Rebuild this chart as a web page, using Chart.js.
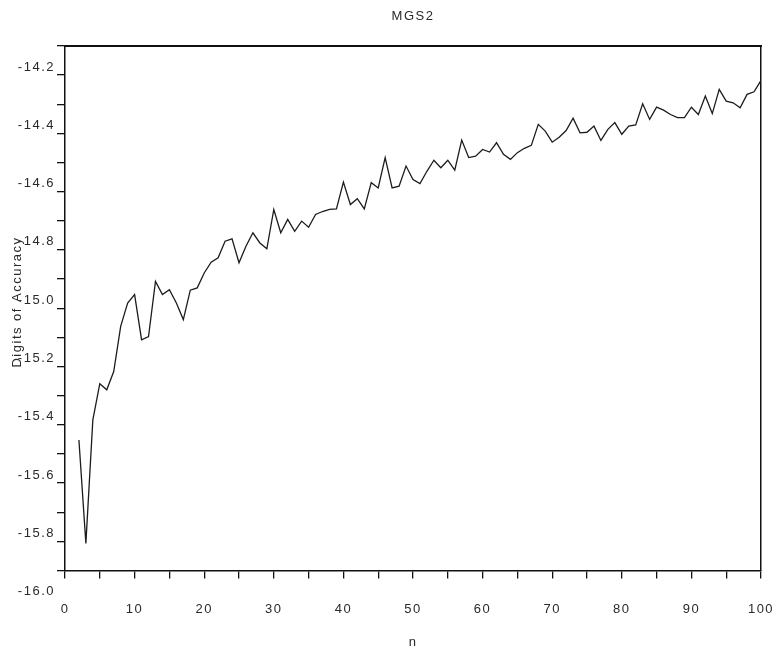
<!DOCTYPE html>
<html>
<head>
<meta charset="utf-8">
<title>MGS2</title>
<script src="https://cdn.jsdelivr.net/npm/chart.js@4.4.1/dist/chart.umd.min.js"></script>
<style>
  html, body { margin: 0; padding: 0; background: #ffffff; }
  canvas { display: block; }
</style>
</head>
<body>
<canvas id="chart" width="776" height="650"></canvas>
<script>
// Problem size n
const nValues = [
  2, 3, 4, 5, 6, 7, 8, 9, 10,
  11, 12, 13, 14, 15, 16, 17, 18, 19, 20,
  21, 22, 23, 24, 25, 26, 27, 28, 29, 30,
  31, 32, 33, 34, 35, 36, 37, 38, 39, 40,
  41, 42, 43, 44, 45, 46, 47, 48, 49, 50,
  51, 52, 53, 54, 55, 56, 57, 58, 59, 60,
  61, 62, 63, 64, 65, 66, 67, 68, 69, 70,
  71, 72, 73, 74, 75, 76, 77, 78, 79, 80,
  81, 82, 83, 84, 85, 86, 87, 88, 89, 90,
  91, 92, 93, 94, 95, 96, 97, 98, 99, 100
];

// log10 of the error for modified Gram-Schmidt (second pass)
const digitsOfAccuracy = [
  -15.552, -15.907, -15.483, -15.359, -15.380, -15.317, -15.162, -15.082, -15.053,
  -15.208, -15.197, -15.008, -15.053, -15.036, -15.082, -15.139, -15.038, -15.030, -14.979,
  -14.942, -14.927, -14.870, -14.862, -14.944, -14.887, -14.841, -14.876, -14.896, -14.761,
  -14.841, -14.795, -14.836, -14.801, -14.822, -14.778, -14.768, -14.761, -14.759, -14.667,
  -14.744, -14.724, -14.759, -14.669, -14.687, -14.583, -14.687, -14.681, -14.612, -14.658,
  -14.672, -14.630, -14.592, -14.618, -14.592, -14.626, -14.523, -14.583, -14.578, -14.555,
  -14.564, -14.532, -14.572, -14.589, -14.566, -14.551, -14.541, -14.469, -14.492, -14.530,
  -14.513, -14.490, -14.448, -14.498, -14.496, -14.475, -14.524, -14.486, -14.463, -14.503,
  -14.475, -14.471, -14.398, -14.452, -14.410, -14.420, -14.435, -14.446, -14.446, -14.410,
  -14.435, -14.372, -14.432, -14.349, -14.389, -14.395, -14.412, -14.366, -14.357, -14.318
];

// Labelled ticks (minor tick marks sit halfway between them)
const xTickLabels = [0, 10, 20, 30, 40, 50, 60, 70, 80, 90, 100];
const yTickLabels = [-16.0, -15.8, -15.6, -15.4, -15.2, -15.0, -14.8, -14.6, -14.4, -14.2];

const FONT_FAMILY = '"Liberation Sans", Arial, Helvetica, sans-serif';
const FONT_SIZE = 13;
const SPACING = '1.5px';
const TEXT_COLOR = '#2a2a2a';
const AXIS_COLOR = '#111111';

// Wide letter spacing for all canvas text
const letterSpacingPlugin = {
  id: 'letterSpacing',
  beforeUpdate(chart) { chart.ctx.letterSpacing = SPACING; },
  beforeDraw(chart) { chart.ctx.letterSpacing = SPACING; }
};

// Vertical axis title, drawn over the left margin
const yTitlePlugin = {
  id: 'yTitle',
  afterDraw(chart) {
    const ctx = chart.ctx;
    ctx.save();
    ctx.font = FONT_SIZE + 'px ' + FONT_FAMILY;
    ctx.letterSpacing = SPACING;
    ctx.fillStyle = TEXT_COLOR;
    ctx.textAlign = 'center';
    ctx.textBaseline = 'middle';
    ctx.translate(17, 302);
    ctx.rotate(-Math.PI / 2);
    ctx.fillText('Digits of Accuracy', 0, 0);
    ctx.restore();
  }
};

const points = nValues.map((n, i) => ({ x: n, y: digitsOfAccuracy[i] }));

const frameAxis = (position, width) => ({
  type: 'linear',
  position,
  display: true,
  min: position === 'top' ? 0 : -16.0,
  max: position === 'top' ? 100 : -14.2,
  afterFit(scale) {
    if (position === 'top') { scale.height = 0; } else { scale.width = 0; }
    scale.paddingLeft = scale.paddingRight = scale.paddingTop = scale.paddingBottom = 0;
  },
  ticks: { display: false },
  grid: { display: false, drawTicks: false, drawOnChartArea: false },
  border: { display: true, color: AXIS_COLOR, width }
});

new Chart(document.getElementById('chart'), {
  type: 'line',
  data: {
    datasets: [{
      label: 'MGS2',
      data: points,
      borderColor: '#1c1c1c',
      borderWidth: 1.3,
      pointRadius: 0,
      tension: 0,
      fill: false
    }]
  },
  options: {
    responsive: false,
    animation: false,
    layout: { padding: { left: 0, right: 15, top: 0, bottom: 0 } },
    plugins: {
      legend: { display: false },
      tooltip: { enabled: false },
      title: {
        display: true,
        text: 'MGS2',
        fullSize: false,
        color: TEXT_COLOR,
        font: { family: FONT_FAMILY, size: FONT_SIZE, weight: 'normal' },
        padding: { top: 9, bottom: 21.4 }
      }
    },
    scales: {
      x: {
        type: 'linear',
        position: 'bottom',
        min: 0,
        max: 100,
        afterFit(scale) {
          scale.height = 79.5;
          scale.paddingLeft = 0;
          scale.paddingRight = 14;
        },
        ticks: {
          stepSize: 5,
          autoSkip: false,
          maxRotation: 0,
          padding: 23,
          color: TEXT_COLOR,
          font: { family: FONT_FAMILY, size: FONT_SIZE },
          callback: (v) => xTickLabels.some(t => Math.abs(t - v) < 1e-6) ? String(Math.round(v)) : ''
        },
        grid: { drawOnChartArea: false, drawTicks: true, tickLength: 8, color: AXIS_COLOR, lineWidth: 1.3 },
        border: { display: true, color: AXIS_COLOR, width: 1.5 },
        title: {
          display: true,
          text: 'n',
          color: TEXT_COLOR,
          font: { family: FONT_FAMILY, size: FONT_SIZE },
          padding: { top: 0, bottom: 0 }
        }
      },
      y: {
        type: 'linear',
        position: 'left',
        min: -16.0,
        max: -14.2,
        afterFit(scale) { scale.width = 65; },
        ticks: {
          stepSize: 0.1,
          autoSkip: false,
          padding: 2,
          labelOffset: 21,
          color: TEXT_COLOR,
          font: { family: FONT_FAMILY, size: FONT_SIZE },
          callback: (v) => yTickLabels.some(t => Math.abs(t - v) < 1e-6) ? v.toFixed(1) : ''
        },
        grid: { drawOnChartArea: false, drawTicks: true, tickLength: 8, color: AXIS_COLOR, lineWidth: 1.3 },
        border: { display: true, color: AXIS_COLOR, width: 1.5 }
      },
      xTop: frameAxis('top', 2),
      yRight: frameAxis('right', 1.5)
    }
  },
  plugins: [letterSpacingPlugin, yTitlePlugin]
});
</script>
</body>
</html>
